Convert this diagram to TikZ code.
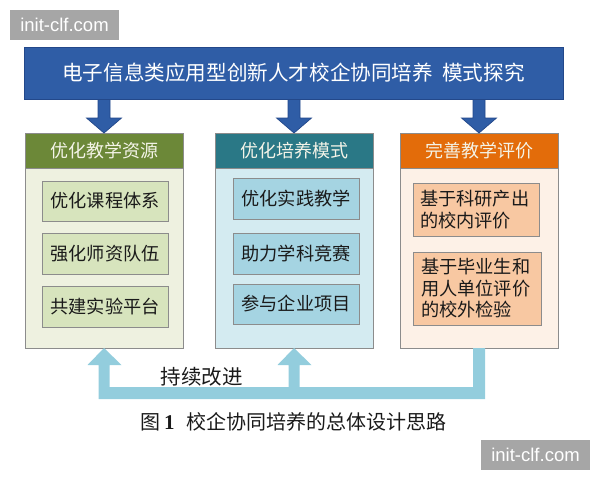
\documentclass[tikz,border=0pt]{standalone}
\usepackage{fontspec}
\setmainfont{Noto Sans CJK SC}
\newfontfamily\wmfont{Liberation Sans}
\newfontfamily\numfont{Liberation Serif}
\usetikzlibrary{calc}
\definecolor{bannerblue}{HTML}{2F5DA6}
\definecolor{bannerdark}{HTML}{23488A}
\definecolor{ghead}{HTML}{6C8838}
\definecolor{gbody}{HTML}{EEF1E0}
\definecolor{ginner}{HTML}{D7E4BD}
\definecolor{thead}{HTML}{2A7886}
\definecolor{tbody}{HTML}{D4EBF1}
\definecolor{tinner}{HTML}{A5D4E2}
\definecolor{ohead}{HTML}{E36C0A}
\definecolor{obody}{HTML}{FDF1E7}
\definecolor{oinner}{HTML}{F8C8A2}
\definecolor{fbblue}{HTML}{93CDDD}
\definecolor{edgegray}{HTML}{8C8C8C}
\definecolor{hdrtext}{HTML}{F4F4E8}
\definecolor{wmgray}{HTML}{A6A6A6}
\definecolor{txt}{HTML}{1A1A1A}
\begin{document}
\begin{tikzpicture}[x=1pt,y=-1pt,
  every node/.style={inner sep=0pt,outer sep=0pt},
  wmark/.style={fill=wmgray,text=white,font=\wmfont\fontsize{18.5}{20}\selectfont,
    minimum width=109pt,minimum height=30pt,anchor=north west},
  banner/.style={fill=bannerblue,draw=bannerdark,line width=0.8pt,text=white,
    minimum width=539pt,minimum height=52pt,anchor=north west,
    font=\fontsize{20.6}{24}\selectfont},
  dnarrow/.style={fill=bannerblue,draw=bannerdark,line width=0.7pt,line join=miter},
  outerbox/.style={draw=edgegray,line width=0.7pt,minimum width=158pt,
    minimum height=215pt,anchor=north west},
  hdr/.style={draw=edgegray,line width=0.7pt,minimum width=158pt,minimum height=35pt,
    anchor=north,text=hdrtext,font=\fontsize{18}{21}\selectfont},
  inbox/.style={draw=edgegray,line width=0.8pt,minimum width=126pt,anchor=north west,
    text=txt,font=\fontsize{18.2}{21.5}\selectfont},
  inboxl/.style={inbox,text width=112pt,align=left,inner xsep=7pt},
  fb/.style={fill=fbblue}
]
\useasboundingbox (0,0) rectangle (600,480);

% watermarks
\node[wmark] (wm1) at (10,10) {init-clf.com};
\node[wmark] (wm2) at (481,440) {init-clf.com};

% three columns
\node[outerbox,fill=gbody] (box1) at (25,133) {};
\node[outerbox,fill=tbody] (box2) at (215,133) {};
\node[outerbox,fill=obody] (box3) at (400,133) {};

\node[hdr,fill=ghead] (h1) at (box1.north) {优化教学资源};
\node[hdr,fill=thead] (h2) at (box2.north) {优化培养模式};
\node[hdr,fill=ohead] (h3) at (box3.north) {完善教学评价};

% inner boxes
\node[inbox,fill=ginner,minimum height=40pt] (a1) at (42,181) {优化课程体系};
\node[inbox,fill=ginner,minimum height=41pt] (a2) at (42,233) {强化师资队伍};
\node[inbox,fill=ginner,minimum height=41pt] (a3) at (42,286) {共建实验平台};

\node[inbox,fill=tinner,minimum height=41pt] (b1) at (233,178) {优化实践教学};
\node[inbox,fill=tinner,minimum height=41pt] (b2) at (233,233) {助力学科竞赛};
\node[inbox,fill=tinner,minimum height=40pt] (b3) at (233,284) {参与企业项目};

\node[inboxl,fill=oinner,minimum height=53pt] (c1) at (413,183) {基于科研产出\\的校内评价};
\node[inboxl,fill=oinner,minimum height=73pt,minimum width=128pt] (c2) at (413,252) {基于毕业生和\\用人单位评价\\的校外检验};

% down arrows from banner to columns
\foreach \b in {box1,box2,box3}{
  \draw[dnarrow] (\b.north) -- ++(-17.5,-15) -- ++(11.5,0) -- ++(0,-20)
     -- ++(12,0) -- ++(0,20) -- ++(11.5,0) -- cycle;
}

% banner
\node[banner] (banner) at (24,47) {电子信息类应用型创新人才校企协同培养\hspace{0.45em}模式探究};

% feedback arrow
\fill[fb] ([xshift=6pt]box3.south) -- ([xshift=6pt,yshift=-51pt]box3.south)
  -- ([xshift=-5.5pt,yshift=-51pt]box1.south) -- ++(0,-34) -- ++(-11,0)
  -- (box1.south) -- ++(17.5,17) -- ++(-12,0) -- ++(0,22)
  -- ([xshift=-5.5pt,yshift=-39pt]box2.south) -- ++(0,-22) -- ++(-11,0)
  -- (box2.south) -- ++(17.5,17) -- ++(-12,0) -- ++(0,22)
  -- ([xshift=-6pt,yshift=-39pt]box3.south) -- ([xshift=-6pt]box3.south) -- cycle;

\node[text=txt,font=\fontsize{20.5}{24}\selectfont] (fbl) at (201.5,377) {持续改进};

% caption
\node[text=txt,font=\fontsize{20}{24}\selectfont] (cap) at (293.5,422)
  {图{\numfont\bfseries\fontsize{21}{24}\selectfont\,1}\hspace{0.6em}校企协同培养的总体设计思路};
\end{tikzpicture}
\end{document}
